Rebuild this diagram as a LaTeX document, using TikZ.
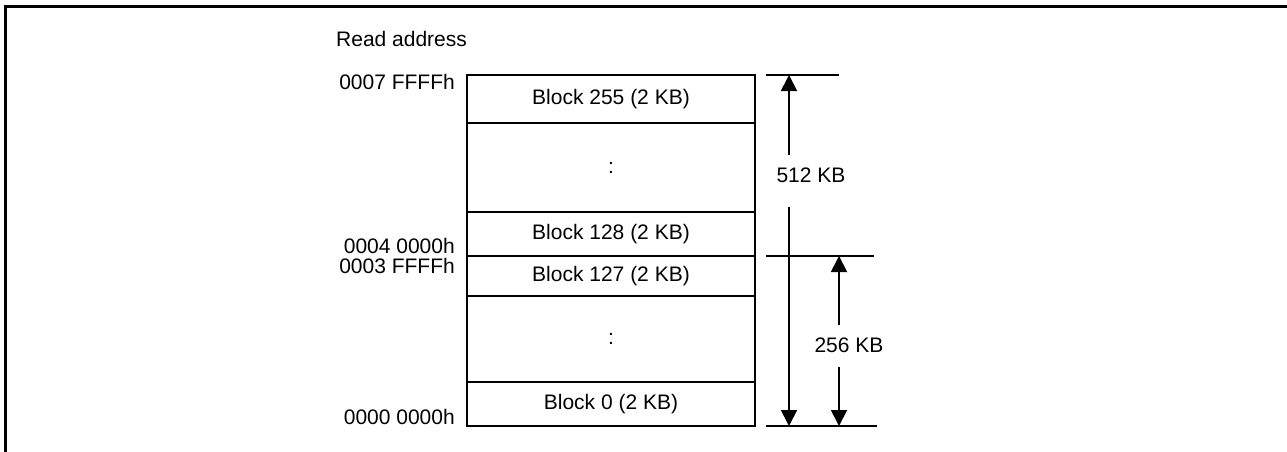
\documentclass[tikz,border=0pt]{standalone}
\usepackage{fontspec}
\setmainfont{Liberation Sans}
\usetikzlibrary{arrows.meta}
\begin{document}
\begin{tikzpicture}[x=1pt,y=-1pt,
  txt/.style={font=\fontsize{21}{24}\selectfont, inner sep=0pt},
  rowbox/.style={draw, line width=1.5pt, minimum width=288pt, inner sep=0pt, font=\fontsize{21}{24}\selectfont},
  extline/.style={line width=1.5pt},
  dimarrow/.style={line width=1.8pt, -{Triangle[width=16pt,length=16pt]}},
  frameline/.style={line width=3pt}]
\useasboundingbox (0,0) rectangle (1287,452);
% frame
\draw[frameline] (5.5,452) -- (5.5,6.5) -- (1287,6.5);
% labels
\node[txt, anchor=west] (ra) at (336,39) {Read address};
\node[txt, anchor=east] (a7) at (455,82) {0007 FFFFh};
\node[txt, anchor=east] (a4) at (455,246) {0004 0000h};
\node[txt, anchor=east] (a3) at (455,266) {0003 FFFFh};
\node[txt, anchor=east] (a0) at (455,417) {0000 0000h};
% memory rows
\node[rowbox, minimum height=48pt] (b255) at (611,99) {Block 255 (2 KB)};
\node[rowbox, minimum height=89pt] (d1) at (611,167.5) {:};
\node[rowbox, minimum height=44pt] (b128) at (611,234) {Block 128 (2 KB)};
\node[rowbox, minimum height=40pt] (b127) at (611,276) {Block 127 (2 KB)};
\node[rowbox, minimum height=86pt] (d2) at (611,339) {:};
\node[rowbox, minimum height=44pt] (b0) at (611,404) {Block 0 (2 KB)};
% extension lines
\coordinate (e1a) at (766,75);  \coordinate (e1b) at (839,75);
\coordinate (e2a) at (766,256); \coordinate (e2b) at (874,256);
\coordinate (e3a) at (766,426); \coordinate (e3b) at (877,426);
\draw[extline] (e1a) -- (e1b);
\draw[extline] (e2a) -- (e2b);
\draw[extline] (e3a) -- (e3b);
% 512 KB
\node[txt] (k512) at (811,175) {512 KB};
\coordinate (t1) at (789,75); \coordinate (g1a) at (789,155);
\coordinate (g1b) at (789,207); \coordinate (bt1) at (789,426);
\draw[dimarrow] (g1a) -- (t1);
\draw[dimarrow] (g1b) -- (bt1);
% 256 KB
\node[txt] (k256) at (849,345) {256 KB};
\coordinate (t2) at (839,256); \coordinate (g2a) at (839,325);
\coordinate (g2b) at (839,367); \coordinate (bt2) at (839,426);
\draw[dimarrow] (g2a) -- (t2);
\draw[dimarrow] (g2b) -- (bt2);
\end{tikzpicture}
\end{document}
